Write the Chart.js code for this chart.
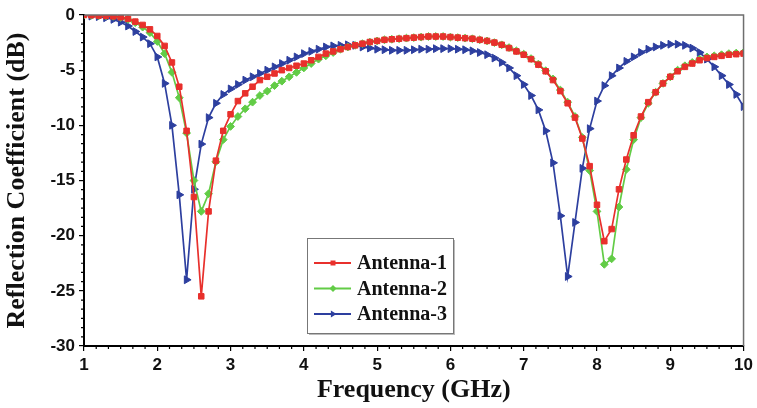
<!DOCTYPE html>
<html>
<head>
<meta charset="utf-8">
<script src="https://cdn.jsdelivr.net/npm/chart.js@4.4.1/dist/chart.umd.min.js"></script>
<style>
html,body{margin:0;padding:0;background:#fff;}
#wrap{width:757px;height:408px;}
</style>
</head>
<body>
<div id="wrap"><canvas id="c" width="757" height="408"></canvas></div>
<script>
const freq = [1.0,1.1,1.2,1.3,1.4,1.5,1.6,1.7,1.8,1.9,2.0,2.1,2.2,2.3,2.4,2.5,2.6,2.7,2.8,2.9,3.0,3.1,3.2,3.3,3.4,3.5,3.6,3.7,3.8,3.9,4.0,4.1,4.2,4.3,4.4,4.5,4.6,4.7,4.8,4.9,5.0,5.1,5.2,5.3,5.4,5.5,5.6,5.7,5.8,5.9,6.0,6.1,6.2,6.3,6.4,6.5,6.6,6.7,6.8,6.9,7.0,7.1,7.2,7.3,7.4,7.5,7.6,7.7,7.8,7.9,8.0,8.1,8.2,8.3,8.4,8.5,8.6,8.7,8.8,8.9,9.0,9.1,9.2,9.3,9.4,9.5,9.6,9.7,9.8,9.9,10.0];

const antenna1 = [0,-0.02,-0.05,-0.08,-0.12,-0.2,-0.35,-0.6,-0.9,-1.3,-1.9,-2.8,-4.3,-6.5,-10.5,-16.5,-25.5,-17.8,-13.2,-10.5,-9.0,-7.8,-7.1,-6.5,-5.9,-5.6,-5.3,-5.0,-4.8,-4.6,-4.4,-4.1,-3.8,-3.5,-3.3,-3.1,-2.9,-2.75,-2.6,-2.45,-2.35,-2.25,-2.2,-2.15,-2.1,-2.05,-2.0,-1.95,-1.95,-1.95,-2.0,-2.05,-2.1,-2.15,-2.25,-2.35,-2.5,-2.7,-3.0,-3.3,-3.6,-4.0,-4.5,-5.1,-5.9,-6.9,-8.0,-9.3,-11.2,-13.7,-17.2,-20.5,-19.4,-15.8,-13.1,-10.9,-9.2,-7.9,-7.0,-6.2,-5.6,-5.1,-4.7,-4.4,-4.1,-3.9,-3.8,-3.7,-3.6,-3.55,-3.5];

const antenna2 = [0,-0.02,-0.05,-0.08,-0.12,-0.22,-0.4,-0.7,-1.1,-1.6,-2.4,-3.5,-5.2,-7.5,-10.7,-15.0,-17.8,-16.2,-13.3,-11.3,-10.1,-9.2,-8.5,-7.9,-7.3,-6.9,-6.4,-6.0,-5.6,-5.2,-4.8,-4.4,-4.0,-3.7,-3.4,-3.1,-2.9,-2.75,-2.6,-2.45,-2.35,-2.25,-2.2,-2.15,-2.1,-2.05,-2.0,-1.95,-1.95,-1.95,-2.0,-2.05,-2.1,-2.15,-2.25,-2.35,-2.5,-2.7,-2.95,-3.25,-3.55,-3.95,-4.45,-5.05,-5.8,-6.8,-7.9,-9.2,-11.1,-14.1,-17.8,-22.6,-22.1,-17.4,-14.0,-11.3,-9.3,-8.0,-7.0,-6.2,-5.6,-5.0,-4.6,-4.3,-4.0,-3.8,-3.7,-3.6,-3.5,-3.45,-3.4];

const antenna3 = [0,-0.1,-0.15,-0.25,-0.4,-0.65,-1.0,-1.5,-2.0,-2.6,-3.8,-6.2,-10.0,-16.3,-24.0,-15.8,-11.7,-9.3,-8.0,-7.2,-6.7,-6.3,-5.9,-5.6,-5.3,-5.0,-4.7,-4.4,-4.1,-3.8,-3.5,-3.3,-3.1,-2.9,-2.8,-2.75,-2.7,-2.75,-2.9,-3.0,-3.1,-3.15,-3.2,-3.2,-3.2,-3.15,-3.1,-3.1,-3.05,-3.05,-3.05,-3.1,-3.15,-3.25,-3.4,-3.6,-3.9,-4.3,-4.8,-5.5,-6.3,-7.3,-8.6,-10.5,-13.4,-18.2,-23.7,-18.8,-13.9,-10.3,-7.8,-6.4,-5.5,-4.8,-4.2,-3.8,-3.4,-3.1,-2.9,-2.75,-2.65,-2.65,-2.75,-3.0,-3.4,-4.0,-4.7,-5.5,-6.3,-7.2,-8.3];

const seriesNames = ['Antenna-1','Antenna-2','Antenna-3'];
const xTicks = [1,2,3,4,5,6,7,8,9,10];
const yTicks = [0,-5,-10,-15,-20,-25,-30];

const RED = '#e8302c', GREEN = '#62cc46', BLUE = '#2d3f9f';

function pts(arr){ return freq.map((f,i)=>({x:f,y:arr[i]})); }

const extras = {
  id:'extras',
  afterDraw(chart){
    const {ctx, chartArea:a, scales:{x,y}} = chart;
    ctx.save();
    ctx.strokeStyle='#6e6e6e'; ctx.lineWidth=1.5;
    ctx.beginPath();
    ctx.moveTo(a.left,a.top); ctx.lineTo(a.right,a.top); ctx.lineTo(a.right,a.bottom);
    ctx.stroke();
    ctx.strokeStyle='#000'; ctx.lineWidth=1.2;
    ctx.beginPath();
    for(let i=0;i<xTicks.length-1;i++){
      for(let k=1;k<6;k++){
        const px = x.getPixelForValue(xTicks[i]+k/6);
        ctx.moveTo(px,a.bottom); ctx.lineTo(px,a.bottom+3);
      }
    }
    for(let i=0;i<yTicks.length-1;i++){
      for(let k=1;k<6;k++){
        const py = y.getPixelForValue(yTicks[i]-5*k/6);
        ctx.moveTo(a.left,py); ctx.lineTo(a.left-3,py);
      }
    }
    ctx.stroke();
    const lx = a.left+223, ly = a.top+223, lw = 146, lh = 95;
    ctx.fillStyle='#bbb';
    ctx.fillRect(lx+2,ly+2,lw,lh);
    ctx.fillStyle='#fff';
    ctx.fillRect(lx,ly,lw,lh);
    ctx.strokeStyle='#777'; ctx.lineWidth=1;
    ctx.strokeRect(lx+0.5,ly+0.5,lw,lh);
    ctx.font='bold 20px "Liberation Serif", "Times New Roman", serif';
    ctx.textBaseline='middle';
    chart.data.datasets.forEach((ds,i)=>{
      const cy = ly+25+i*25.5;
      ctx.strokeStyle=ds.borderColor; ctx.lineWidth=2;
      ctx.beginPath(); ctx.moveTo(lx+7,cy); ctx.lineTo(lx+44,cy); ctx.stroke();
      ctx.fillStyle=ds.borderColor;
      const r=3.5, cx=lx+26;
      ctx.beginPath();
      if(ds.pointStyle==='rect'){ ctx.rect(cx-2.5,cy-2.5,5,5); }
      else if(ds.pointStyle==='rectRot'){ ctx.moveTo(cx,cy-r); ctx.lineTo(cx+r,cy); ctx.lineTo(cx,cy+r); ctx.lineTo(cx-r,cy); ctx.closePath(); }
      else { ctx.moveTo(cx+r,cy); ctx.lineTo(cx-r*0.6,cy-r); ctx.lineTo(cx-r*0.6,cy+r); ctx.closePath(); }
      ctx.fill();
      ctx.fillStyle='#111';
      ctx.fillText(ds.label,lx+50,cy+1);
    });
    ctx.restore();
  }
};

const tickFont = {family:'"Liberation Sans", Arial, sans-serif', size:17, weight:'bold'};
const titleFont = {family:'"Liberation Serif", "Times New Roman", serif', size:26, weight:'bold'};

new Chart(document.getElementById('c'), {
  type:'line',
  data:{
    datasets:[
      {label:seriesNames[0], data:pts(antenna1), borderColor:RED, backgroundColor:RED, pointStyle:'rect', pointRadius:3.9, pointBorderWidth:1, borderWidth:1.7, tension:0},
      {label:seriesNames[1], data:pts(antenna2), borderColor:GREEN, backgroundColor:GREEN, pointStyle:'rectRot', pointRadius:3.9, pointBorderWidth:1, borderWidth:1.7, tension:0},
      {label:seriesNames[2], data:pts(antenna3), borderColor:BLUE, backgroundColor:BLUE, pointStyle:'triangle', pointRotation:90, pointRadius:4.5, pointBorderWidth:1, borderWidth:1.7, tension:0}
    ]
  },
  options:{
    responsive:false,
    animation:false,
    layout:{padding:{top:15,right:11,left:0,bottom:0}},
    plugins:{legend:{display:false}, tooltip:{enabled:false}},
    scales:{
      x:{
        type:'linear', min:1, max:10,
        afterFit(s){ s.height = 62; },
        ticks:{stepSize:1, font:tickFont, color:'#111', padding:4, maxRotation:0},
        grid:{drawOnChartArea:false, drawTicks:true, tickLength:5, color:'#000', lineWidth:1.2},
        border:{color:'#000', width:2},
        title:{display:true, text:'Frequency (GHz)', font:titleFont, color:'#111', padding:{top:0,bottom:2}}
      },
      y:{
        type:'linear', min:-30, max:0,
        afterFit(s){ s.width = 84; },
        ticks:{stepSize:5, font:tickFont, color:'#111', padding:4},
        grid:{drawOnChartArea:false, drawTicks:true, tickLength:5, color:'#000', lineWidth:1.2},
        border:{color:'#000', width:2},
        title:{display:true, text:'Reflection Coefficient (dB)', font:titleFont, color:'#111', padding:{top:2,bottom:0}}
      }
    }
  },
  plugins:[extras]
});
</script>
</body>
</html>
